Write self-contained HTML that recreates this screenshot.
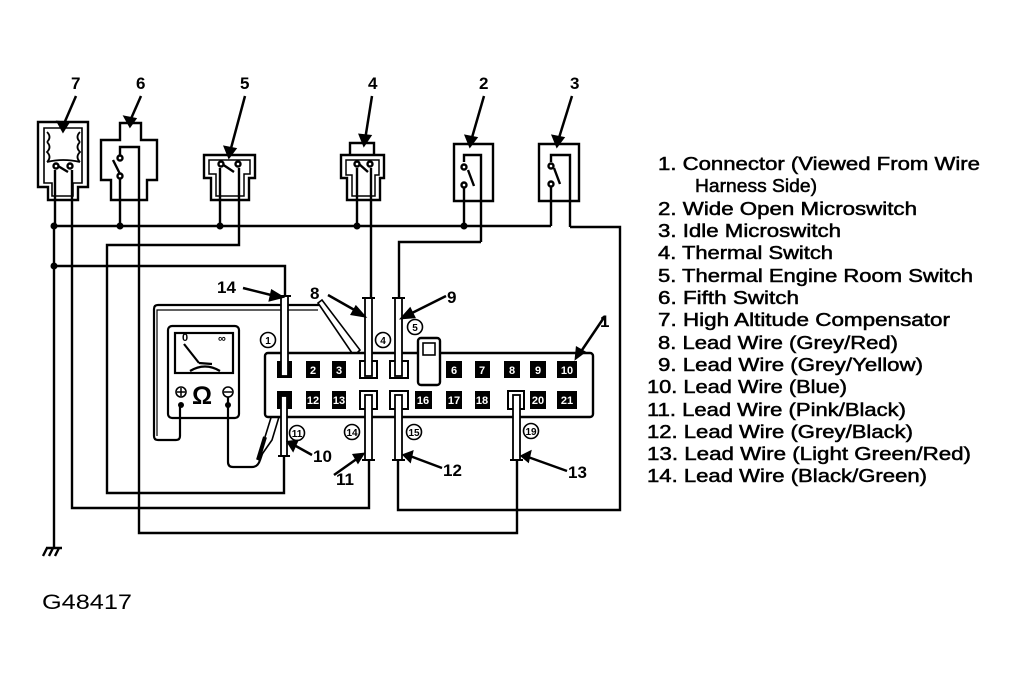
<!DOCTYPE html>
<html><head><meta charset="utf-8"><style>
html,body{margin:0;padding:0;background:#fff;}
svg{display:block;}
text{font-family:"Liberation Sans",sans-serif;}
</style></head><body>
<svg width="1017" height="680" viewBox="0 0 1017 680" xmlns="http://www.w3.org/2000/svg">
<g fill="none" stroke="#000" stroke-width="2.4">
<!-- comp 7 -->
<path d="M38,122 H88 V187 H78 V200 H48 V187 H38 Z"/>
<path d="M44,128 H82 V183 H73 V196 H52 V183 H44 Z" stroke-width="1.6"/>
<path d="M47,142 q5,-5 0,-10 M47,142 q5,5 0,10 q5,5 0,10 M80,142 q-5,-5 0,-10 M80,142 q-5,5 0,10 q-5,5 0,10 M47,162 Q63,158 80,162" stroke-width="1.8"/>
<path d="M55,200 V170 M72,200 V170 M58,166 L68,172"/>
<circle cx="56" cy="166" r="2.5" fill="#fff"/><circle cx="70" cy="166" r="2.5" fill="#fff"/>
<!-- comp 6 -->
<path d="M120,123 H141 V140 H157 V180 H147 V200 H111 V180 H101 V140 H120 Z"/>
<path d="M120,200 V176 M139,200 V147 H120 V156 M113,160 L120,174"/>
<circle cx="120" cy="158" r="2.5" fill="#fff"/><circle cx="120" cy="176" r="2.5" fill="#fff"/>
<!-- comp 5 -->
<path d="M204,155 H255 V178 H249 V200 H211 V178 H204 Z"/>
<path d="M209,160 H250 V174 H244 V196 H216 V174 H209 Z" stroke-width="1.5"/>
<path d="M220,200 V168 M239,200 V168 M222,164 L234,172"/>
<circle cx="221" cy="164" r="2.5" fill="#fff"/><circle cx="238" cy="164" r="2.5" fill="#fff"/>
<!-- comp 4 -->
<path d="M350,143 H374 V155 H384 V178 H380 V200 H347 V178 H341 V155 H350 Z M341,155 H384"/>
<path d="M346,160 H379 V175 H375 V196 H352 V175 H346 Z" stroke-width="1.5"/>
<path d="M357,200 V168 M371,200 V168 M359,164 L368,172"/>
<circle cx="357" cy="164" r="2.5" fill="#fff"/><circle cx="370" cy="164" r="2.5" fill="#fff"/>
<!-- comp 2 -->
<path d="M454,144 H493 V201 H454 Z"/>
<path d="M464,226 V186 M481,242 V155 H464 V162 M468,170 L474,186"/>
<circle cx="464" cy="167" r="2.5" fill="#fff"/><circle cx="464" cy="185" r="2.5" fill="#fff"/>
<!-- comp 3 -->
<path d="M539,144 H579 V201 H539 Z"/>
<path d="M551,226 V186 M570,227 V155 H551 V162 M554,168 L560,184"/>
<circle cx="551" cy="166" r="2.5" fill="#fff"/><circle cx="551" cy="184" r="2.5" fill="#fff"/>
<!-- wires -->
<path d="M54,226 H551 M55,200 V226 M72,200 V508 H369 V460 M120,200 V226 M139,200 V533 H517 V460 M220,200 V226 M239,200 V245 H107 V493 H284 V456 M357,200 V226 M371,200 V298 M570,227 H620 V510 H398 V460 M481,242 H399 V298 M54,226 V548 M54,266 H285 V296"/>
<path d="M46,548 H62 M47,548 L43,556 M53,548 L49,556 M59,548 L55,556"/>
</g>
<g fill="#000">
<circle cx="54" cy="226" r="3.5"/><circle cx="120" cy="226" r="3.5"/><circle cx="220" cy="226" r="3.5"/><circle cx="357" cy="226" r="3.5"/><circle cx="464" cy="226" r="3.5"/><circle cx="54" cy="266" r="3.5"/>
</g>
<!-- component labels & arrows -->
<g font-size="17" font-weight="bold">
<text x="71" y="89">7</text><text x="136" y="89">6</text><text x="240" y="89">5</text><text x="368" y="89">4</text><text x="479" y="89">2</text><text x="570" y="89">3</text>
</g>
<g stroke="#000" stroke-width="2.5" fill="#000">
<path d="M76,96 L63,126"/><path d="M58,122 L63,131 L68,123 Z"/>
<path d="M141,96 L130,121"/><path d="M125,117 L130,126 L135,119 Z"/>
<path d="M245,96 L230,152"/><path d="M225,147 L229,157 L235,149 Z"/>
<path d="M372,96 L365,140"/><path d="M360,135 L364,145 L370,136 Z"/>
<path d="M484,96 L471,141"/><path d="M466,136 L470,146 L476,138 Z"/>
<path d="M572,96 L558,141"/><path d="M553,136 L557,146 L563,138 Z"/>
</g>
<!-- multimeter -->
<g fill="none" stroke="#000" stroke-width="2.2">
<path d="M180,405 V436 Q180,440 176,440 H158 Q154,440 154,436 V309 Q154,305 158,305 H320 L355,352"/>
<path d="M157,436 V310 H318" stroke-width="1.2"/>
<path d="M318,303 L322,300 L360,350 L354,356 Z" stroke-width="1.6" fill="#fff"/>
<rect x="168" y="326" width="71" height="92" rx="4"/>
<rect x="175" y="333" width="58" height="40"/>
<path d="M184,344 L199,363 M190,371 Q205,362 220,371 M199,363 L212,364"/>
<path d="M228,397 V462 Q228,467 233,467 H252 Q258,467 260,460 L282,395"/>
<path d="M258,460 L265,437 L278,395 L285,397 L272,440 Z" fill="#fff" stroke-width="1.6"/>
<path d="M265,437 L258,460" stroke-width="4"/>
</g>
<text x="182" y="341" font-size="11" font-weight="bold">0</text>
<text x="218" y="342" font-size="11" font-weight="bold">∞</text>
<text x="192" y="404" font-size="25" font-weight="bold">Ω</text>
<circle cx="181" cy="392" r="5" fill="#fff" stroke="#000" stroke-width="1.6"/><path d="M177,392 H185 M181,388 V396" stroke="#000" stroke-width="1.5"/>
<circle cx="228" cy="392" r="5" fill="#fff" stroke="#000" stroke-width="1.6"/><path d="M224,392 H232" stroke="#000" stroke-width="1.5"/>
<circle cx="181" cy="405" r="3" fill="#000"/><circle cx="228" cy="405" r="3" fill="#000"/>
<!-- connector -->
<g stroke="#000" stroke-width="2.4" fill="#fff">
<rect x="265" y="353" width="328" height="64" rx="3"/>
<rect x="418" y="338" width="22" height="47" rx="3"/>
<rect x="423" y="343" width="12" height="12" stroke-width="1.6"/>
</g>
<g fill="#000">
<rect x="277" y="361" width="15" height="17"/><rect x="306" y="361" width="14" height="17"/><rect x="332" y="361" width="14" height="17"/>
<rect x="446" y="361" width="16" height="17"/><rect x="475" y="361" width="15" height="17"/><rect x="504" y="361" width="16" height="17"/><rect x="530" y="361" width="16" height="17"/><rect x="557" y="361" width="20" height="17"/>
<rect x="277" y="391" width="15" height="18"/><rect x="306" y="391" width="14" height="18"/><rect x="332" y="391" width="14" height="18"/><rect x="415" y="391" width="17" height="18"/><rect x="446" y="391" width="16" height="18"/><rect x="475" y="391" width="15" height="18"/><rect x="530" y="391" width="16" height="18"/><rect x="557" y="391" width="20" height="18"/>
</g>
<g fill="none" stroke="#000" stroke-width="2">
<rect x="360" y="361" width="17" height="17"/><rect x="390" y="361" width="18" height="17"/>
<rect x="360" y="391" width="17" height="18"/><rect x="390" y="391" width="18" height="18"/><rect x="508" y="391" width="16" height="18"/>
</g>
<g font-size="11" font-weight="bold" text-anchor="middle" style="fill:#fff">
<text x="313" y="374" style="fill:#fff">2</text><text x="339" y="374" style="fill:#fff">3</text><text x="454" y="374" style="fill:#fff">6</text><text x="482" y="374" style="fill:#fff">7</text><text x="512" y="374" style="fill:#fff">8</text><text x="538" y="374" style="fill:#fff">9</text><text x="567" y="374" style="fill:#fff">10</text>
<text x="313" y="404" style="fill:#fff">12</text><text x="339" y="404" style="fill:#fff">13</text><text x="423" y="404" style="fill:#fff">16</text><text x="454" y="404" style="fill:#fff">17</text><text x="482" y="404" style="fill:#fff">18</text><text x="538" y="404" style="fill:#fff">20</text><text x="567" y="404" style="fill:#fff">21</text>
</g>
<!-- lead tubes -->
<g fill="#fff" stroke="#000" stroke-width="1.8">
<rect x="281" y="296" width="7" height="80"/>
<rect x="281" y="396" width="6" height="60"/>
<rect x="365" y="298" width="7" height="78"/>
<rect x="395" y="298" width="7" height="78"/>
<rect x="365" y="395" width="7" height="65"/>
<rect x="395" y="395" width="7" height="65"/>
<rect x="513" y="395" width="7" height="65"/>
</g>
<g stroke="#000" stroke-width="2"><path d="M278,296 H291 M278,456 H290 M362,298 H375 M392,298 H405 M362,460 H375 M392,460 H405 M510,460 H523"/></g>
<!-- circled numbers -->
<g fill="#fff" stroke="#000" stroke-width="1.6">
<circle cx="268" cy="340" r="7.5"/><circle cx="383" cy="340" r="7.5"/><circle cx="415" cy="327" r="7.5"/>
<circle cx="297" cy="433" r="7.5"/><circle cx="352" cy="432" r="7.5"/><circle cx="414" cy="432" r="7.5"/><circle cx="531" cy="431" r="7.5"/>
</g>
<g font-size="10" font-weight="bold" text-anchor="middle">
<text x="268" y="344">1</text><text x="383" y="344">4</text><text x="415" y="331">5</text>
<text x="297" y="437">11</text><text x="352" y="436">14</text><text x="414" y="436">15</text><text x="531" y="435">19</text>
</g>
<!-- lead labels -->
<g font-size="17" font-weight="bold">
<text x="217" y="293">14</text><text x="310" y="299">8</text><text x="447" y="303">9</text><text x="600" y="327">1</text>
<text x="313" y="462">10</text><text x="336" y="485">11</text><text x="443" y="476">12</text><text x="568" y="478">13</text>
</g>
<g stroke="#000" stroke-width="2.5" fill="#000">
<path d="M243,288 L275,296"/><path d="M272,291 L282,297 L270,300 Z"/>
<path d="M328,295 L358,312"/><path d="M356,307 L364,316 L352,314 Z"/>
<path d="M446,296 L410,314"/><path d="M410,309 L402,318 L414,317 Z"/>
<path d="M605,316 L580,353"/><path d="M577,348 L576,358 L584,352 Z"/>
<path d="M312,455 L294,445"/><path d="M297,441 L288,442 L293,450 Z"/>
<path d="M334,475 L358,458"/><path d="M354,455 L363,454 L358,462 Z"/>
<path d="M442,468 L410,456"/><path d="M412,452 L404,455 L410,461 Z"/>
<path d="M567,471 L528,457"/><path d="M530,452 L522,456 L528,461 Z"/>
</g>
<!-- legend -->
<g font-size="18" stroke="#000" stroke-width="0.5">
<text x="658" y="170" textLength="322" lengthAdjust="spacingAndGlyphs">1. Connector (Viewed From Wire</text>
<text x="695" y="192" font-size="18" textLength="122" lengthAdjust="spacingAndGlyphs">Harness Side)</text>
<text x="658" y="215" textLength="259" lengthAdjust="spacingAndGlyphs">2. Wide Open Microswitch</text>
<text x="658" y="237" textLength="183" lengthAdjust="spacingAndGlyphs">3. Idle Microswitch</text>
<text x="658" y="259" textLength="175" lengthAdjust="spacingAndGlyphs">4. Thermal Switch</text>
<text x="658" y="282" textLength="315" lengthAdjust="spacingAndGlyphs">5. Thermal Engine Room Switch</text>
<text x="658" y="304" textLength="141" lengthAdjust="spacingAndGlyphs">6. Fifth Switch</text>
<text x="658" y="326" textLength="292" lengthAdjust="spacingAndGlyphs">7. High Altitude Compensator</text>
<text x="658" y="349" textLength="240" lengthAdjust="spacingAndGlyphs">8. Lead Wire (Grey/Red)</text>
<text x="658" y="371" textLength="265" lengthAdjust="spacingAndGlyphs">9. Lead Wire (Grey/Yellow)</text>
<text x="647" y="393" textLength="200" lengthAdjust="spacingAndGlyphs">10. Lead Wire (Blue)</text>
<text x="647" y="416" textLength="259" lengthAdjust="spacingAndGlyphs">11. Lead Wire (Pink/Black)</text>
<text x="647" y="438" textLength="266" lengthAdjust="spacingAndGlyphs">12. Lead Wire (Grey/Black)</text>
<text x="647" y="460" textLength="324" lengthAdjust="spacingAndGlyphs">13. Lead Wire (Light Green/Red)</text>
<text x="647" y="482" textLength="280" lengthAdjust="spacingAndGlyphs">14. Lead Wire (Black/Green)</text>
</g>
<text x="42" y="609" font-size="21" textLength="90" lengthAdjust="spacingAndGlyphs">G48417</text>
</svg>
</body></html>
